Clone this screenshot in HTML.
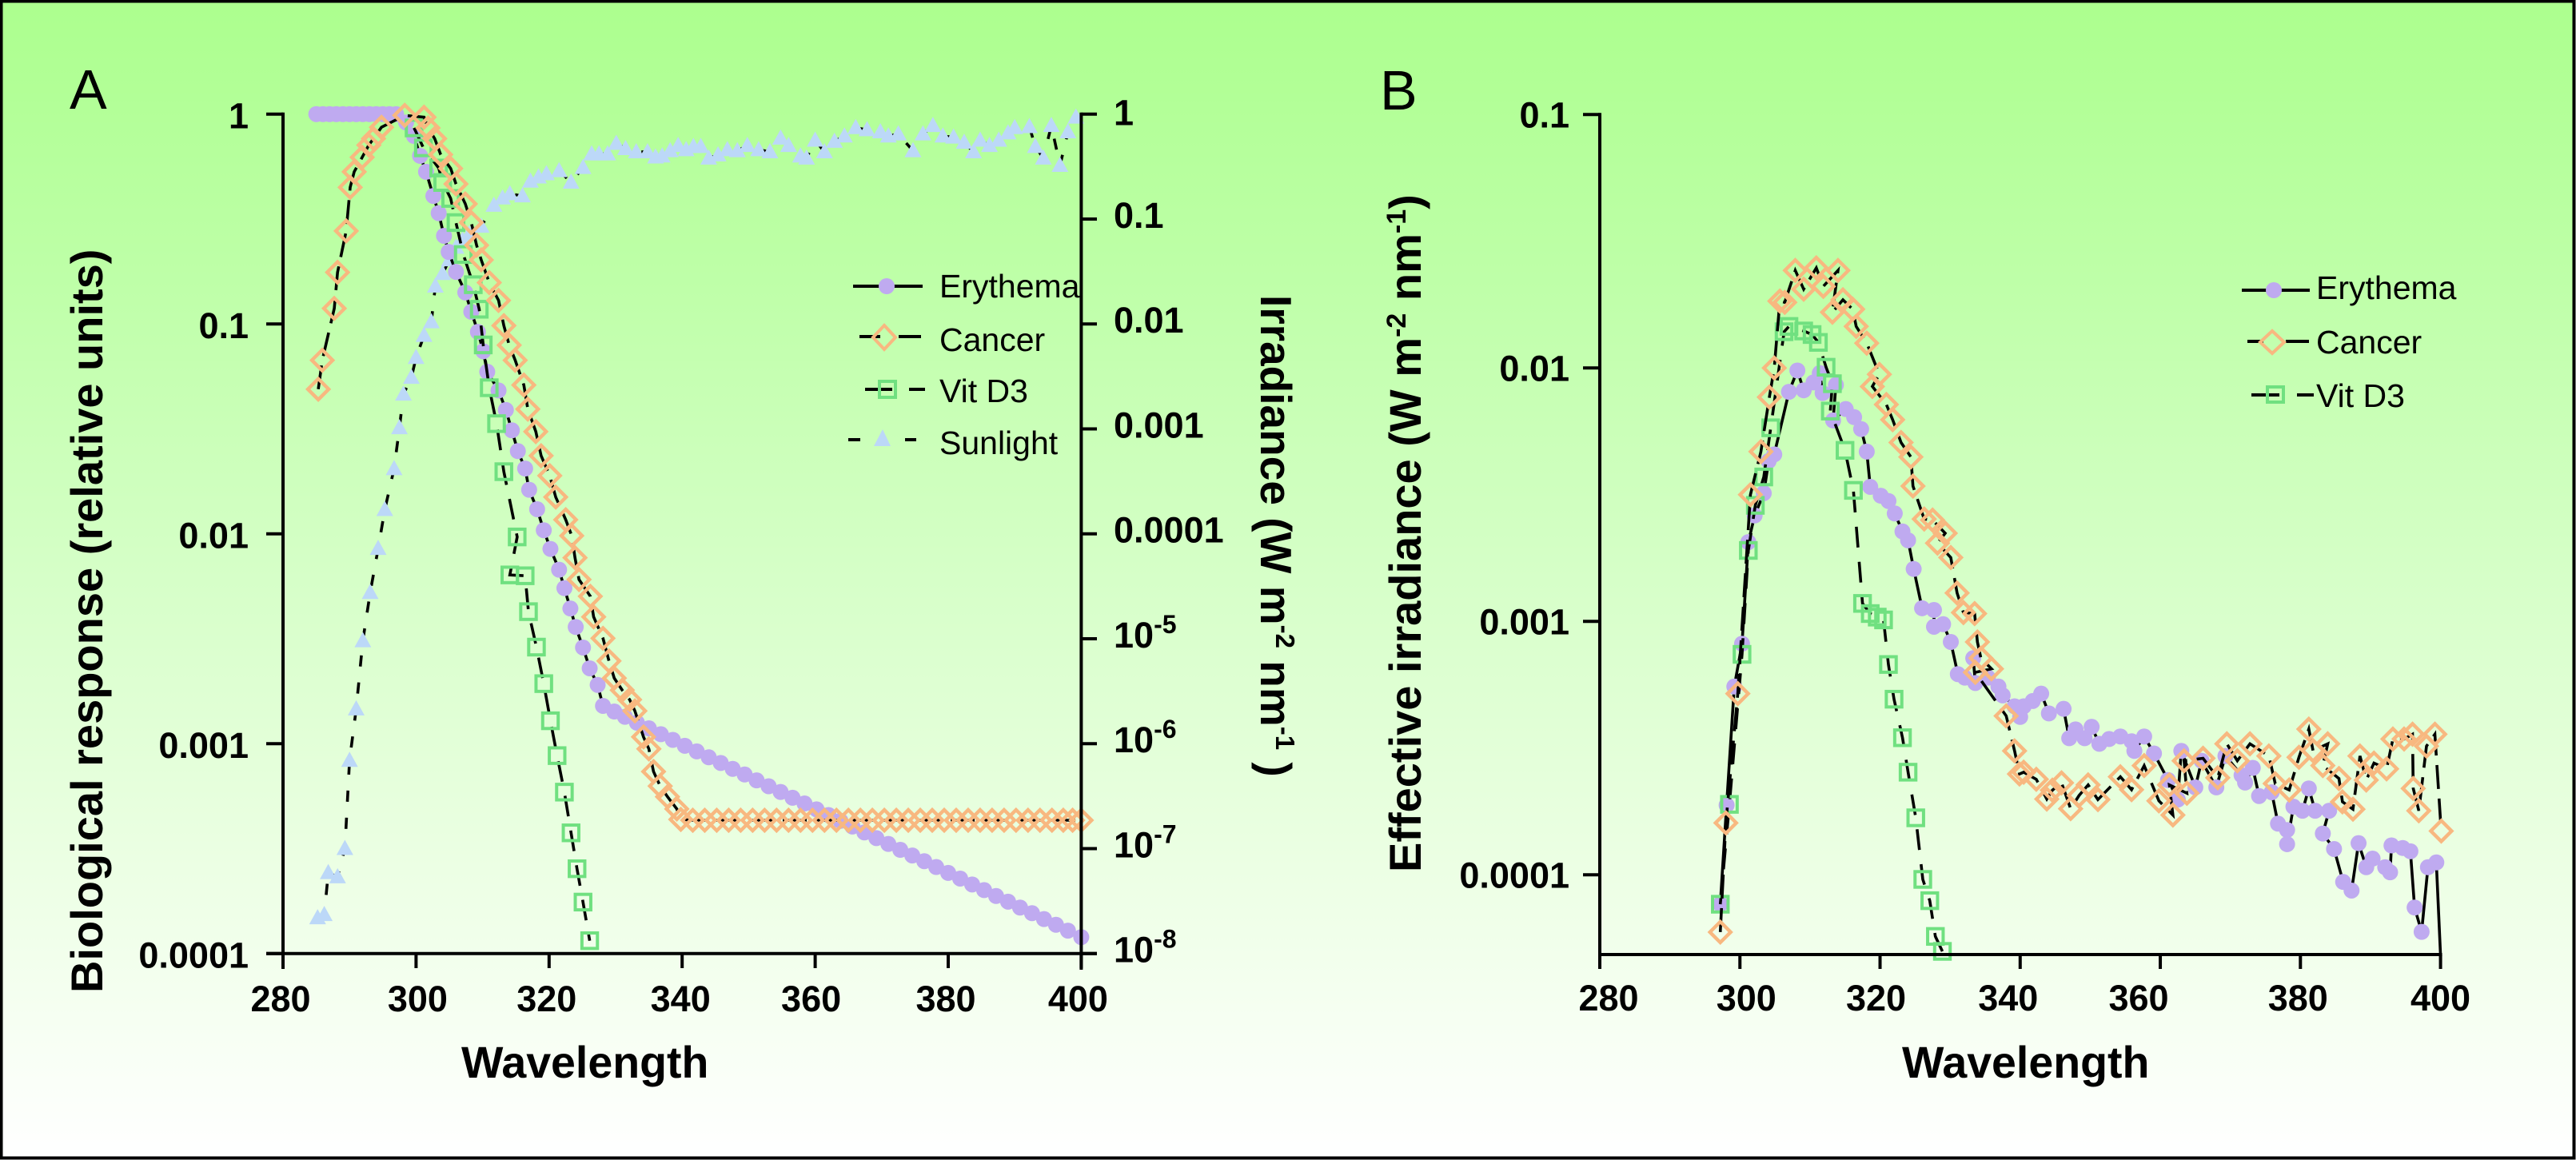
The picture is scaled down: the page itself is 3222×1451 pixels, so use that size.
<!DOCTYPE html>
<html>
<head>
<meta charset="utf-8">
<title>Action spectra and effective irradiance</title>
<style>
html,body{margin:0;padding:0;background:#fff}
svg{display:block}
text{font-family:"Liberation Sans",sans-serif;fill:#000}
.tick{font-size:45px;font-weight:bold}
.title{font-size:56px;font-weight:bold}
.leg{font-size:41px}
.panel{font-size:70px}
</style>
</head>
<body>
<svg id="fig" xmlns="http://www.w3.org/2000/svg" width="3222" height="1451" viewBox="0 0 3222 1451">
<defs>
<linearGradient id="bg" x1="0" y1="0" x2="0" y2="1">
<stop offset="0" stop-color="#acff8e"/>
<stop offset="0.25" stop-color="#bfffa9"/>
<stop offset="0.5" stop-color="#d6ffc8"/>
<stop offset="0.75" stop-color="#ecffe4"/>
<stop offset="1" stop-color="#ffffff"/>
</linearGradient>
</defs>
<rect x="1.5" y="1.5" width="3218" height="1447" fill="url(#bg)" stroke="#000" stroke-width="4"/>
<text class="panel" x="87" y="136">A</text>
<text class="panel" x="1726" y="137">B</text>
<text class="title" transform="translate(128,1242) rotate(-90)">Biological response (relative units)</text>
<text class="title" style="font-size:55px" transform="translate(1577,369) rotate(90)">Irradiance (W m<tspan dy="-19" font-size="33">-2</tspan><tspan dy="19"> nm</tspan><tspan dy="-19" font-size="33">-1</tspan><tspan dy="19"> )</tspan></text>
<text class="title" transform="translate(1777,1091) rotate(-90)">Effective irradiance (W m<tspan dy="-19" font-size="34">-2</tspan><tspan dy="19"> nm</tspan><tspan dy="-19" font-size="34">-1</tspan><tspan dy="19">)</tspan></text>
<text class="title" x="577" y="1348" style="font-size:55.5px">Wavelength</text>
<text class="title" x="2379" y="1348" style="font-size:55.5px">Wavelength</text>
<g id="chartA"></g>
<g id="chartB"></g>
<g>
<g>
<line x1="1067" y1="358" x2="1154" y2="358" stroke="#000" stroke-width="4"/>
<circle cx="1109" cy="358" r="10" fill="#bfaaf0"/>
<text class="leg" x="1175" y="372">Erythema</text>
</g>
<g>
<line x1="1075" y1="421" x2="1101" y2="421" stroke="#000" stroke-width="4"/>
<line x1="1124" y1="421" x2="1152" y2="421" stroke="#000" stroke-width="4"/>
<path d="M1106 407L1120 422L1106 437L1092 422Z" fill="none" stroke="#f8b880" stroke-width="4"/>
<text class="leg" x="1175" y="439">Cancer</text>
</g>
<g>
<line x1="1082" y1="487" x2="1116" y2="487" stroke="#000" stroke-width="4"/>
<line x1="1137" y1="487" x2="1157" y2="487" stroke="#000" stroke-width="4"/>
<rect x="1100" y="477" width="20" height="20" fill="none" stroke="#70e080" stroke-width="4"/>
<text class="leg" x="1175" y="503">Vit D3</text>
</g>
<g>
<line x1="1061" y1="550" x2="1076" y2="550" stroke="#000" stroke-width="4"/>
<line x1="1132" y1="550" x2="1146" y2="550" stroke="#000" stroke-width="4"/>
<path d="M1104 537L1114 558H1093Z" fill="#bcd8f8"/>
<text class="leg" x="1175" y="568">Sunlight</text>
</g>
</g>
<g>
<g>
<line x1="2804" y1="363" x2="2889" y2="363" stroke="#000" stroke-width="4"/>
<circle cx="2844" cy="363" r="10" fill="#bfaaf0"/>
<text class="leg" x="2897" y="374">Erythema</text>
</g>
<g>
<line x1="2811" y1="427" x2="2831" y2="427" stroke="#000" stroke-width="4"/>
<line x1="2859" y1="427" x2="2888" y2="427" stroke="#000" stroke-width="4"/>
<path d="M2842 414L2857 428L2842 442L2827 428Z" fill="none" stroke="#f8b880" stroke-width="4"/>
<text class="leg" x="2897" y="442">Cancer</text>
</g>
<g>
<line x1="2816" y1="494" x2="2851" y2="494" stroke="#000" stroke-width="4"/>
<line x1="2873" y1="494" x2="2894" y2="494" stroke="#000" stroke-width="4"/>
<rect x="2836" y="484" width="20" height="19" fill="none" stroke="#70e080" stroke-width="4"/>
<text class="leg" x="2897" y="509">Vit D3</text>
</g>
</g>
</svg>
<script>
/* Values are log10 of the plotted quantity. */
var xTickValues = [280,300,320,340,360,380,400];
var aLeftTickExponents = [0,-1,-2,-3,-4];
var aLeftTickLabels = ["1","0.1","0.01","0.001","0.0001"];
var aRightTickExponents = [0,-1,-2,-3,-4,-5,-6,-7,-8];
var aRightTickLabels = ["1","0.1","0.01","0.001","0.0001","10|-5","10|-6","10|-7","10|-8"];
var bTickExponents = [-1,-2,-3,-4];
var bTickLabels = ["0.1","0.01","0.001","0.0001"];

var sunlightAWave = [285.2,286.2,286.8,288.2,289.3,290,291,292,293.1,294.3,295.3,296.7,297.5,298.1,299.3,300,301.2,302.3,302.9,304,305,306,307,308,309.8,311.7,313,314.1,316,317.2,318.4,319.6,321.5,323.3,325.1,326.4,327.5,328.8,330.1,331.5,333.1,334.8,336,337,338.2,339.4,340.6,341.7,342.8,344,345.4,346.8,348.3,349.8,351.5,353.2,354.8,356,357.8,358.7,360,361.4,362.9,364.4,366.1,367.8,369.8,371,372.5,374.7,376.2,377.7,379.2,380.8,382.4,383.8,384.8,386.2,387.6,389,390,392.2,393.1,394.3,395.5,396.8,398,399.2];
var sunlightALog10 = [-7.66,-7.63,-7.23,-7.27,-7,-6.16,-5.67,-5.02,-4.56,-4.14,-3.77,-3.38,-2.99,-2.67,-2.51,-2.32,-2.11,-1.98,-1.64,-1.52,-1.39,-1.27,-1.2,-1.14,-1.07,-.87,-.8,-.76,-.78,-.64,-.6,-.57,-.54,-.65,-.51,-.38,-.38,-.38,-.28,-.33,-.36,-.36,-.41,-.4,-.35,-.3,-.34,-.31,-.31,-.42,-.39,-.34,-.35,-.3,-.34,-.36,-.23,-.3,-.4,-.42,-.25,-.36,-.26,-.21,-.13,-.15,-.17,-.21,-.19,-.35,-.19,-.11,-.21,-.22,-.27,-.36,-.25,-.3,-.25,-.18,-.13,-.12,-.31,-.42,-.11,-.49,-.17,-.03];

var erythemaAWave = [285,286,287,288,289,290,291,292,293,294,295,296,297,298.5,299.7,300.6,301.5,302.6,303.4,304.2,304.9,306,307.4,308.3,309.3,310.1,310.7,312.4,313.5,314.4,315.3,316.4,317,318.2,319.2,320.2,321.5,322.3,323.2,324,325.1,326.1,327.3,328.1,329.8,331.4,333.2,335,336.8,338.6,340.4,342.2,344,345.8,347.6,349.4,351.2,353,354.8,356.6,358.4,360.2,362,363.8,365.6,367.4,369.2,371,372.8,374.6,376.4,378.2,380,381.8,383.6,385.4,387.2,389,390.8,392.6,394.4,396.2,398,400];
var erythemaALog10 = [0,0,0,0,0,0,0,0,0,0,0,0,0,-.04,-.104,-.199,-.275,-.39,-.472,-.58,-.657,-.752,-.85,-.942,-1.038,-1.13,-1.228,-1.317,-1.41,-1.507,-1.606,-1.689,-1.79,-1.883,-1.983,-2.072,-2.171,-2.259,-2.356,-2.444,-2.542,-2.641,-2.72,-2.82,-2.847,-2.872,-2.9,-2.927,-2.955,-2.982,-3.01,-3.037,-3.065,-3.092,-3.12,-3.147,-3.175,-3.203,-3.23,-3.258,-3.285,-3.313,-3.34,-3.368,-3.395,-3.423,-3.45,-3.478,-3.506,-3.533,-3.56,-3.588,-3.616,-3.643,-3.671,-3.698,-3.726,-3.753,-3.781,-3.808,-3.836,-3.863,-3.891,-3.922];

var vitD3AWave = [299.7,301.1,303.4,304,305.2,306,307.1,308.6,309.5,310.1,311,312.1,313.2,315.2,314.1,316.4,316.9,318.1,319.2,320.2,321.2,322.3,323.3,324.2,325.1,326.1];
var vitD3ALog10 = [-.066,-.161,-.257,-.326,-.402,-.517,-.669,-.813,-.93,-1.1,-1.304,-1.475,-1.704,-2.015,-2.196,-2.2,-2.371,-2.54,-2.714,-2.891,-3.057,-3.231,-3.425,-3.596,-3.755,-3.939];

var cancerAWave = [285.3,285.9,287.7,288.2,289.5,290.1,290.7,291.9,292.9,293.6,294.8,298.3,301.2,301.8,302.8,303.7,305.2,306,307.4,308.3,309.1,309.8,311,312.4,313.2,314,314.9,316.2,316.8,318,318.8,320.1,321,322.5,323.4,323.9,324.5,326.2,326.7,328.1,329,329.8,331,332.1,332.9,334.2,335,335.7,336.7,337.8,339.2,339.8,341.6,343.4,345.2,347,348.8,350.6,352.4,354.2,356,357.8,359.6,361.4,363.2,365,366.8,368.6,370.4,372.2,374,375.8,377.6,379.4,381.2,383,384.8,386.6,388.4,390.2,392,393.8,395.6,397.3,398.7,400];
var cancerALog10 = [-1.311,-1.173,-.926,-.754,-.557,-.349,-.275,-.206,-.148,-.117,-.063,-.006,-.015,-.066,-.117,-.193,-.259,-.333,-.428,-.517,-.625,-.695,-.803,-.888,-1.008,-1.101,-1.173,-1.291,-1.406,-1.513,-1.628,-1.723,-1.825,-1.933,-2.009,-2.114,-2.218,-2.298,-2.396,-2.498,-2.606,-2.688,-2.745,-2.79,-2.844,-2.968,-3.025,-3.133,-3.202,-3.253,-3.311,-3.361,-3.365,-3.365,-3.365,-3.365,-3.365,-3.365,-3.365,-3.365,-3.365,-3.365,-3.365,-3.365,-3.365,-3.365,-3.365,-3.365,-3.365,-3.365,-3.365,-3.365,-3.365,-3.365,-3.365,-3.365,-3.365,-3.365,-3.365,-3.365,-3.365,-3.365,-3.365,-3.365,-3.365,-3.365];

var erythemaBWave = [297.2,298.1,299.2,300.3,301.2,302.1,303.4,304.1,304.9,307,308.2,309.1,310.5,311.4,311.8,313.7,313.3,315.1,316.3,317.3,318.1,318.6,320.1,321.2,322.1,323.2,324,324.8,326,327.7,327.7,329,330.1,331.1,332.1,333.6,333.3,335.4,336.9,337.5,339.2,340,340.5,341.8,343,344.1,346.2,347,347.9,349.2,350.2,351.3,352.7,354.3,355.9,356.3,357.7,359.1,361.1,362.5,363,365,365.9,368,369.3,371.6,372.1,373.2,374.1,375.9,376.8,378.1,378.1,379,380.3,381.2,382.1,384.1,383.2,384.8,386.1,387.3,388.3,389.4,390.3,392.1,392.8,393,394.6,395.7,396.3,397.3,398.2,399.4,400];
var erythemaBLog10 = [-4.116,-3.725,-3.257,-3.088,-2.687,-2.582,-2.494,-2.367,-2.341,-2.094,-2.01,-2.088,-2.057,-2.02,-2.099,-2.067,-2.207,-2.162,-2.194,-2.241,-2.33,-2.469,-2.504,-2.525,-2.574,-2.645,-2.68,-2.793,-2.948,-2.955,-3.021,-3.011,-3.081,-3.208,-3.222,-3.243,-3.145,-3.222,-3.257,-3.292,-3.335,-3.377,-3.335,-3.314,-3.285,-3.363,-3.345,-3.461,-3.426,-3.461,-3.416,-3.483,-3.464,-3.454,-3.473,-3.511,-3.454,-3.521,-3.626,-3.703,-3.511,-3.655,-3.55,-3.655,-3.531,-3.607,-3.636,-3.578,-3.689,-3.674,-3.798,-3.823,-3.879,-3.731,-3.747,-3.659,-3.747,-3.747,-3.837,-3.898,-4.028,-4.062,-3.875,-3.97,-3.936,-3.97,-3.99,-3.884,-3.894,-3.907,-4.129,-4.225,-3.97,-3.951,-4.32];

var vitD3BWave = [297.2,298.5,300.3,301.2,302.2,303.4,304.4,306.3,307,309.1,310.3,311.2,312.3,313.2,312.9,315,316.2,317.5,318.6,319.6,320.5,321.2,322,323.2,324,325.1,326.1,327.1,327.9,328.9];
var vitD3BLog10 = [-4.116,-3.722,-3.13,-2.72,-2.542,-2.43,-2.236,-1.857,-1.836,-1.854,-1.868,-1.899,-1.997,-2.062,-2.17,-2.325,-2.483,-2.929,-2.969,-2.983,-2.994,-3.17,-3.307,-3.459,-3.595,-3.775,-4.018,-4.102,-4.243,-4.302];

var cancerBWave = [297.2,298,299.7,301.5,303,304.2,304.9,305.7,306.4,307.9,309.1,310.9,311.9,314,313.2,314.7,316.1,316.6,318.1,319.9,318.9,320.9,321.8,323,324.4,324.7,326.3,327.5,329.3,328.2,330.1,331,331.9,333.5,333.9,334.4,335.9,333.6,338,339.2,339.9,340.5,342.3,343.8,344.6,345.9,347.2,348.4,349.7,351.1,354.3,355.9,357.7,359.8,361.8,361.3,363.8,363.4,366.1,368.2,369.5,371,372.8,375.5,376.4,378.4,379.8,381.2,381.8,383.9,383.2,385.5,386,387.5,388.5,389.4,390.5,392.3,393.2,394.8,396,396.1,396.9,398,399.2,400.1];
var cancerBLog10 = [-4.226,-3.795,-3.285,-2.5,-2.33,-2.115,-2,-1.736,-1.741,-1.615,-1.689,-1.605,-1.678,-1.615,-1.78,-1.731,-1.768,-1.836,-1.902,-2.025,-2.073,-2.144,-2.204,-2.294,-2.351,-2.466,-2.596,-2.6,-2.652,-2.691,-2.748,-2.888,-2.965,-2.969,-3.081,-3.145,-3.187,-3.201,-3.373,-3.511,-3.602,-3.595,-3.623,-3.701,-3.666,-3.637,-3.739,-3.687,-3.645,-3.703,-3.613,-3.664,-3.569,-3.708,-3.764,-3.645,-3.678,-3.55,-3.54,-3.617,-3.483,-3.55,-3.483,-3.531,-3.64,-3.665,-3.536,-3.425,-3.51,-3.483,-3.569,-3.62,-3.712,-3.741,-3.531,-3.626,-3.559,-3.582,-3.464,-3.464,-3.445,-3.659,-3.747,-3.492,-3.445,-3.827];

var NS = 'http://www.w3.org/2000/svg';
function aX(w){return 354 + (w - 280) * 8.32;}
function aY(e){return 142.7 - e * 262.5;}
function aRightY(e){return 142.7 - e * 131.25;}
function bX(w){return 2001 + (w - 280) * 8.763;}
function bY(e){return 143.3 + (-1 - e) * 317;}
var bBottomExponent = -4.32;

function seg(parent, name, x1, y1, x2, y2){
  var el = document.createElementNS(NS, 'line');
  
  
  el.setAttribute('x1', x1);
  el.setAttribute('y1', y1);
  el.setAttribute('x2', x2);
  el.setAttribute('y2', y2);
  el.setAttribute('stroke', '#000');
  el.setAttribute('stroke-width', '4');
  parent.appendChild(el);
}
function label(parent, name, x, y, anchor, txt){
  var el = document.createElementNS(NS, 'text');
  
  
  el.setAttribute('class', 'tick');
  el.setAttribute('x', x);
  el.setAttribute('y', y);
  el.setAttribute('text-anchor', anchor);
  var parts = txt.split('|');
  el.appendChild(document.createTextNode(parts[0]));
  if (parts[1]) {
    var sup = document.createElementNS(NS, 'tspan');
    sup.setAttribute('font-size', '32');
    sup.setAttribute('dy', '-18');
    sup.textContent = parts[1];
    el.appendChild(sup);
  }
  parent.appendChild(el);
}
function series(parent, name, shape, dash, wave, vals, fx, fy, minExp){
  var g = document.createElementNS(NS, 'g');
  
  
  var pts = [];
  for (var i = 0; i < wave.length; i++) pts.push(fx(wave[i]).toFixed(1) + ',' + fy(vals[i]).toFixed(1));
  var line = document.createElementNS(NS, 'polyline');
  
  
  line.setAttribute('points', pts.join(' '));
  line.setAttribute('fill', 'none');
  line.setAttribute('stroke', '#000');
  line.setAttribute('stroke-width', '3.6');
  if (dash) line.setAttribute('stroke-dasharray', dash);
  g.appendChild(line);
  for (var j = 0; j < wave.length; j++) {
    if (minExp !== undefined && vals[j] <= minExp) continue;
    var x = fx(wave[j]), y = fy(vals[j]), m;
    if (shape === 'circle') {
      m = document.createElementNS(NS, 'circle');
      m.setAttribute('cx', x);
      m.setAttribute('cy', y);
      m.setAttribute('r', 10);
      m.setAttribute('fill', '#bfaaf0');
    } else if (shape === 'square') {
      m = document.createElementNS(NS, 'rect');
      m.setAttribute('x', x - 9.7);
      m.setAttribute('y', y - 9.7);
      m.setAttribute('width', 19.4);
      m.setAttribute('height', 19.4);
      m.setAttribute('fill', 'none');
      m.setAttribute('stroke', '#70e080');
      m.setAttribute('stroke-width', '4');
    } else if (shape === 'diamond') {
      m = document.createElementNS(NS, 'path');
      m.setAttribute('d', 'M' + x + ' ' + (y - 13) + 'L' + (x + 13) + ' ' + y + 'L' + x + ' ' + (y + 13) + 'L' + (x - 13) + ' ' + y + 'Z');
      m.setAttribute('fill', 'none');
      m.setAttribute('stroke', '#f8b880');
      m.setAttribute('stroke-width', '4.4');
    } else {
      m = document.createElementNS(NS, 'path');
      m.setAttribute('d', 'M' + x + ' ' + (y - 11) + 'L' + (x + 10.5) + ' ' + (y + 8) + 'L' + (x - 10.5) + ' ' + (y + 8) + 'Z');
      m.setAttribute('fill', '#bcd8f8');
    }
    
    
    g.appendChild(m);
  }
  parent.appendChild(g);
}

var A = document.getElementById('chartA');
var B = document.getElementById('chartB');
var aXLabelShift = [-3,2,-3,-2,-5,-3,-4];
var bXLabelShift = [11,8,-5,-15,-27,-3,0];

series(A, 'a-sunlight-series', 'triangle', '14 20', sunlightAWave, sunlightALog10, aX, aRightY);
series(A, 'a-erythema-series', 'circle', null, erythemaAWave, erythemaALog10, aX, aY);
series(A, 'a-vit-d3-series', 'square', '26 18', vitD3AWave, vitD3ALog10, aX, aY);
series(A, 'a-cancer-series', 'diamond', '30 12', cancerAWave, cancerALog10, aX, aY);

seg(A, 'a-left-axis', aX(280), aY(0) - 2, aX(280), 1212);
seg(A, 'a-right-axis', aX(400), aY(0) - 2, aX(400), 1213);
seg(A, 'a-x-axis', 333, aY(-4), 1372, aY(-4));
aLeftTickExponents.forEach(function(e, i){
  seg(A, 'a-left-tick', 333, aY(e), aX(280), aY(e));
  label(A, 'a-left-tick-label', 311, aY(e) + 18, 'end', aLeftTickLabels[i]);
});
aRightTickExponents.forEach(function(e, i){
  seg(A, 'a-right-tick', aX(400), aRightY(e), 1372, aRightY(e));
  label(A, 'a-right-tick-label', 1393, aRightY(e) + (i === 0 ? 14 : 11), 'start', aRightTickLabels[i]);
});
xTickValues.forEach(function(w, i){
  seg(A, 'a-x-tick', aX(w), aY(-4), aX(w), 1211);
  label(A, 'a-x-tick-label', aX(w) + aXLabelShift[i], 1265, 'middle', String(w));
});

series(B, 'b-erythema-series', 'circle', null, erythemaBWave, erythemaBLog10, bX, bY, bBottomExponent);
series(B, 'b-vit-d3-series', 'square', '26 18', vitD3BWave, vitD3BLog10, bX, bY);
series(B, 'b-cancer-series', 'diamond', '30 12', cancerBWave, cancerBLog10, bX, bY);

seg(B, 'b-y-axis', bX(280), bY(-1) - 2, bX(280), 1212);
seg(B, 'b-x-axis', bX(280), 1194, bX(400) + 2, 1194);
bTickExponents.forEach(function(e, i){
  seg(B, 'b-y-tick', 1980, bY(e), bX(280), bY(e));
  label(B, 'b-y-tick-label', 1963, bY(e) + 16, 'end', bTickLabels[i]);
});
xTickValues.forEach(function(w, i){
  seg(B, 'b-x-tick', bX(w), 1194, bX(w), 1212);
  label(B, 'b-x-tick-label', bX(w) + bXLabelShift[i], 1264, 'middle', String(w));
});
</script>
</body>
</html>
